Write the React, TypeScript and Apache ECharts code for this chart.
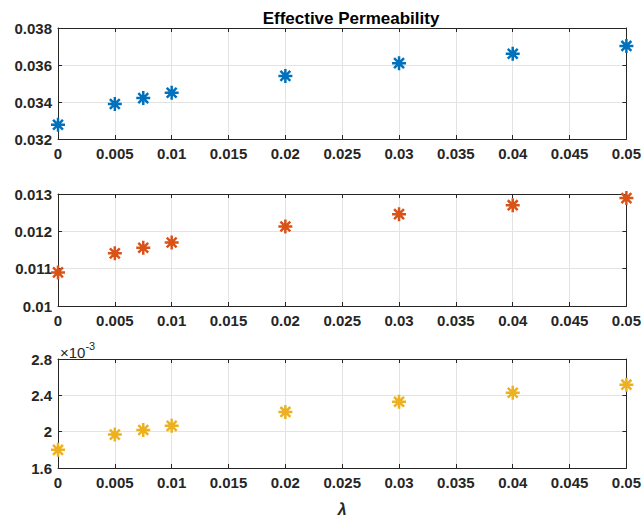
import React, { useEffect, useRef } from "react";
import * as echarts from "echarts";

const lambdaValues = [0, 0.005, 0.0075, 0.01, 0.02, 0.03, 0.04, 0.05];
const permA = [0.03277, 0.03389, 0.03421, 0.0345, 0.03541, 0.0361, 0.03661, 0.03703];
const permB = [0.0109, 0.01141, 0.01156, 0.0117, 0.01213, 0.01246, 0.0127, 0.01289];
const permC = [0.0018, 0.001968, 0.002018, 0.002064, 0.002217, 0.002329, 0.002428, 0.002517];

const colors = ["#0072BD", "#D95319", "#EDB120"];
const yRanges = [
  { min: 0.032, max: 0.038, interval: 0.002, scale: 1 },
  { min: 0.01, max: 0.013, interval: 0.001, scale: 1 },
  { min: 0.0016, max: 0.0028, interval: 0.0004, scale: 1000 },
];
const titleText = "Effective Permeability";
const xLabelText = "λ";
const exponentBase = "×10";
const exponentPower = "-3";

const FONT = "'Liberation Sans', Arial, Helvetica, sans-serif";
const AX = "#262626";
const GRIDC = "#e3e3e3";
const ASTERISK =
  "path://M0 -10 L0 10 M-10 0 L10 0 M-7.07 -7.07 L7.07 7.07 M-7.07 7.07 L7.07 -7.07";

export default function App() {
  const ref = useRef<HTMLDivElement>(null);
  useEffect(() => {
    if (!ref.current) return;
    const chart = echarts.init(ref.current, undefined, { renderer: "svg" });
    const grids = [
      { left: 58, right: 14, top: 28, height: 111 },
      { left: 58, right: 14, top: 194, height: 112 },
      { left: 58, right: 14, top: 359, height: 112 },
    ];
    const fmtX = (v: number) => String(parseFloat(v.toPrecision(6)));
    const xAxes: any[] = [];
    const yAxes: any[] = [];
    grids.forEach((_, i) => {
      xAxes.push({
        type: "value",
        gridIndex: i,
        position: "bottom",
        min: 0,
        max: 0.05,
        interval: 0.005,
        axisLine: { show: true, onZero: false, lineStyle: { color: AX, width: 1 } },
        axisTick: { show: true, inside: true, length: 4, lineStyle: { color: AX } },
        axisLabel: {
          color: AX,
          fontFamily: FONT,
          fontWeight: "bold",
          fontSize: 15,
          margin: 7,
          formatter: fmtX,
        },
        splitLine: { show: true, lineStyle: { color: GRIDC, width: 1 } },
        ...(i === 2
          ? {
              name: xLabelText,
              nameLocation: "middle",
              nameGap: 33,
              nameTextStyle: {
                color: AX,
                fontFamily: FONT,
                fontWeight: "bold",
                fontStyle: "italic",
                fontSize: 16,
              },
            }
          : {}),
      });
      xAxes.push({
        type: "value",
        gridIndex: i,
        position: "top",
        min: 0,
        max: 0.05,
        interval: 0.005,
        axisLine: { show: true, onZero: false, lineStyle: { color: AX, width: 1 } },
        axisTick: { show: true, inside: true, length: 4, lineStyle: { color: AX } },
        axisLabel: { show: false },
        splitLine: { show: false },
      });
      const r = yRanges[i];
      const fmtY = (v: number) => String(parseFloat((v * r.scale).toPrecision(6)));
      yAxes.push({
        type: "value",
        gridIndex: i,
        position: "left",
        min: r.min,
        max: r.max,
        interval: r.interval,
        axisLine: { show: true, onZero: false, lineStyle: { color: AX, width: 1 } },
        axisTick: { show: true, inside: true, length: 4, lineStyle: { color: AX } },
        axisLabel: {
          color: AX,
          fontFamily: FONT,
          fontWeight: "bold",
          fontSize: 15,
          margin: 6,
          formatter: fmtY,
        },
        splitLine: { show: true, lineStyle: { color: GRIDC, width: 1 } },
      });
      yAxes.push({
        type: "value",
        gridIndex: i,
        position: "right",
        min: r.min,
        max: r.max,
        interval: r.interval,
        axisLine: { show: true, onZero: false, lineStyle: { color: AX, width: 1 } },
        axisTick: { show: true, inside: true, length: 4, lineStyle: { color: AX } },
        axisLabel: { show: false },
        splitLine: { show: false },
      });
    });
    const datasets = [permA, permB, permC];
    const series = datasets.map((vals, i) => ({
      type: "scatter",
      xAxisIndex: i * 2,
      yAxisIndex: i * 2,
      data: lambdaValues.map((x, k) => [x, vals[k]]),
      symbol: ASTERISK,
      symbolSize: 14,
      clip: false,
      itemStyle: { color: colors[i], borderColor: colors[i], borderWidth: 2.5, opacity: 1 },
      emphasis: { disabled: true },
    }));
    chart.setOption({
      animation: false,
      backgroundColor: "#ffffff",
      title: {
        text: titleText,
        left: 346,
        textAlign: "center",
        top: 5,
        textStyle: { color: "#000", fontFamily: FONT, fontWeight: "bold", fontSize: 17 },
      },
      grid: grids,
      xAxis: xAxes,
      yAxis: yAxes,
      series,
      graphic: [
        {
          type: "text",
          left: 60,
          top: 340,
          style: {
            text: "{b|" + exponentBase + "}{p|" + exponentPower + "}",
            rich: {
              b: { fontFamily: FONT, fontSize: 15, fill: AX, verticalAlign: "bottom" },
              p: { fontFamily: FONT, fontSize: 11, fill: AX, verticalAlign: "top", padding: [0, 0, 9, 0] },
            },
          },
        },
      ],
    });
    return () => chart.dispose();
  }, []);
  return <div ref={ref} style={{ width: 644, height: 518, position: "absolute", left: 0, top: 0 }} />;
}
